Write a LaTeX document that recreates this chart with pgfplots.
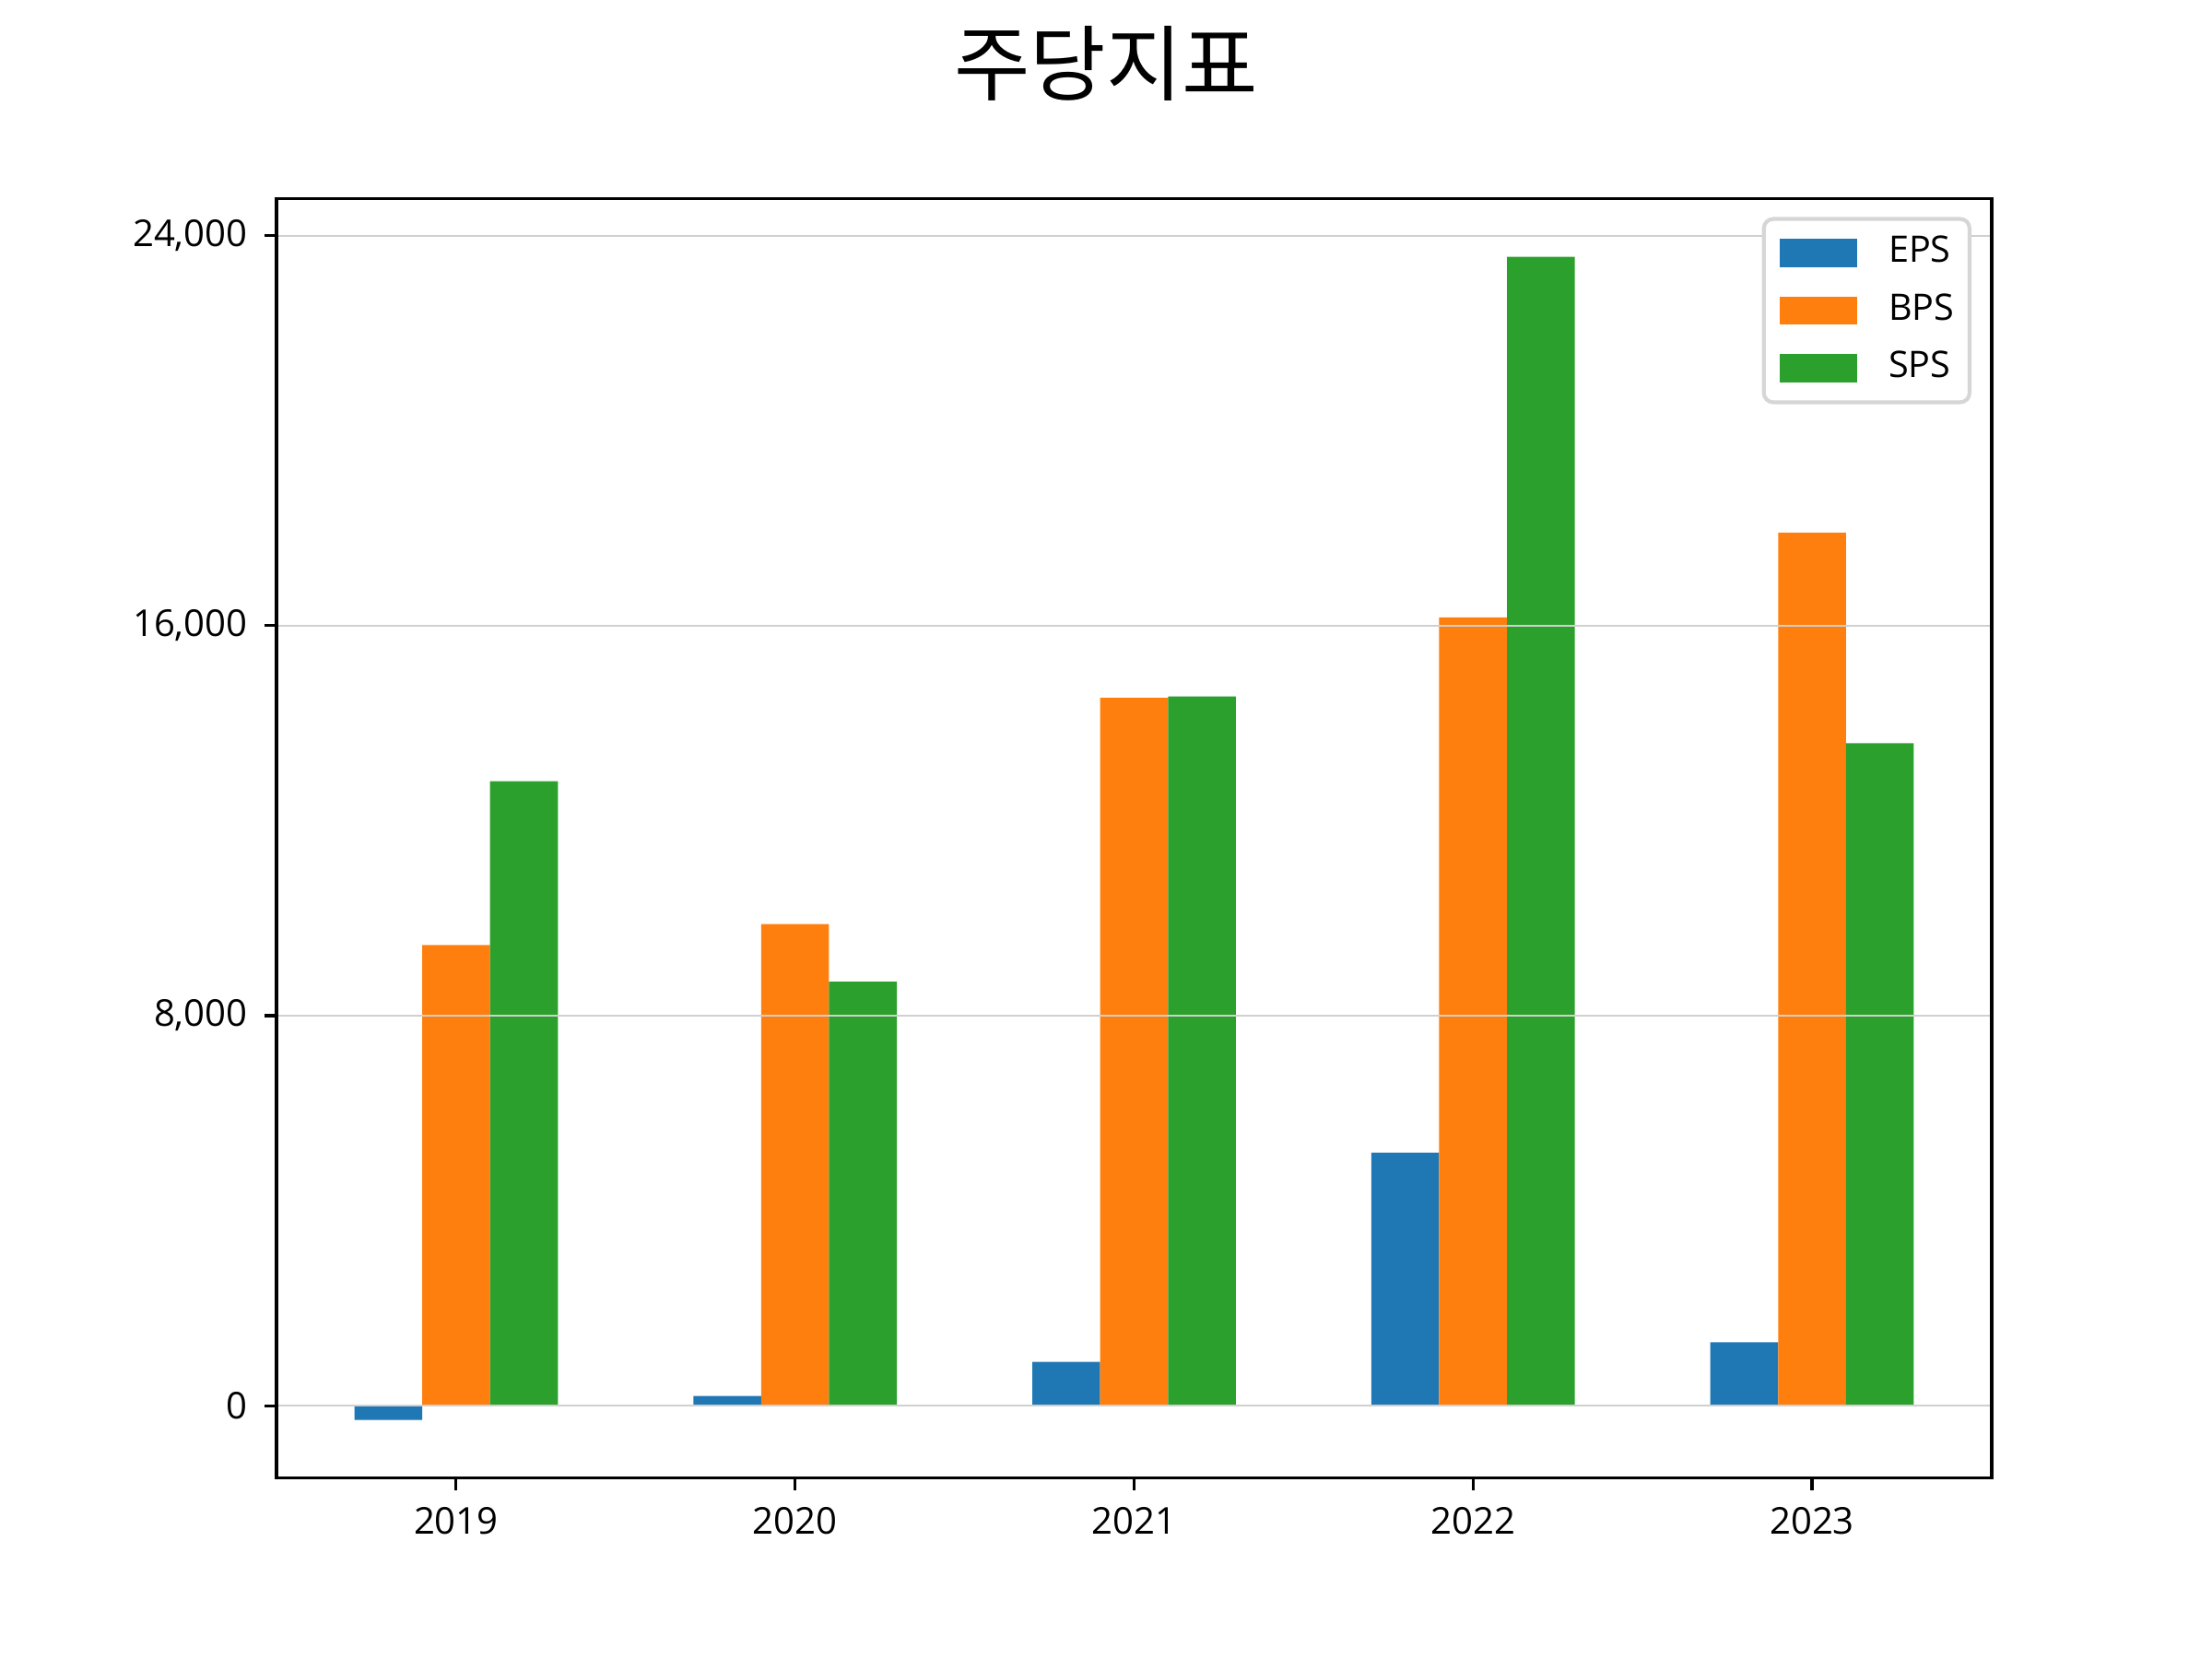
\documentclass[border=0pt]{standalone}
\usepackage{pgfplots}
\pgfplotsset{compat=1.18}
\usepackage{fontspec}
\setmainfont{Open Sans}
\newfontfamily\kr{Noto Sans CJK KR}
\definecolor{c1}{HTML}{1F77B4}
\definecolor{c2}{HTML}{FF7F0E}
\definecolor{c3}{HTML}{2CA02C}
\definecolor{gridc}{HTML}{D0D0D0}
\definecolor{legc}{HTML}{D6D6D6}
\pgfplotstableread{
x EPS BPS SPS
0 -290 9450 12810
1 200 9880 8700
2 900 14520 14550
3 5190 16170 23565
4 1300 17910 13590
}\datatable
\begin{document}
\begin{tikzpicture}
\path[use as bounding box] (-57.6pt,-37.7pt) rectangle (403.2pt,307.9pt);
\begin{axis}[
  at={(0pt,0pt)}, anchor=south west,
  scale only axis, width=357.3pt, height=266.5pt,
  xmin=-0.53, xmax=4.53, ymin=-1483, ymax=24758,
  xtick={0,1,2,3,4}, xticklabels={2019,2020,2021,2022,2023},
  ytick={0,8000,16000,24000},
  /pgf/number format/.cd, 1000 sep={,}, assume math mode=true, /pgfplots/.cd,
  scaled y ticks=false,
  tick align=outside, xtick pos=bottom, ytick pos=left,
  major tick length=2.5pt,
  tick style={line width=0.6pt, black},
  axis line style={line width=0.6pt},
  ymajorgrids, grid style={line width=0.4pt, gridc},
  axis on top,
  ticklabel style={font=\fontsize{7.7}{9}\selectfont},
  legend style={at={(1,1)}, anchor=north east, xshift=-4.2pt, yshift=-3.8pt,
    draw=legc, line width=0.8pt, rounded corners=2pt,
    font=\fontsize{7.6}{9}\selectfont,
    inner xsep=3pt, inner ysep=1.6pt, row sep=1.0pt,
    /tikz/every even column/.append style={column sep=0pt}},
  legend cell align=left,
  legend image code/.code={\path (0pt,0pt); \fill[#1, sharp corners] (0.4pt,-2.9pt) rectangle (16.4pt,2.9pt);},
]
\addplot[ybar, bar width=0.2, bar shift=-0.2, fill=c1, draw=none] table[x=x,y=EPS]{\datatable};
\addlegendentry{\hspace{4.6pt}EPS\kern-1.8pt}
\addplot[ybar, bar width=0.2, bar shift=0, fill=c2, draw=none] table[x=x,y=BPS]{\datatable};
\addlegendentry{\hspace{4.6pt}BPS\kern-1.8pt}
\addplot[ybar, bar width=0.2, bar shift=0.2, fill=c3, draw=none] table[x=x,y=SPS]{\datatable};
\addlegendentry{\hspace{4.6pt}SPS\kern-1.8pt}
\end{axis}
\node[font=\kr\fontsize{17.2}{20}\selectfont] at (172.8pt,294.7pt) {주당지표};
\end{tikzpicture}
\end{document}
